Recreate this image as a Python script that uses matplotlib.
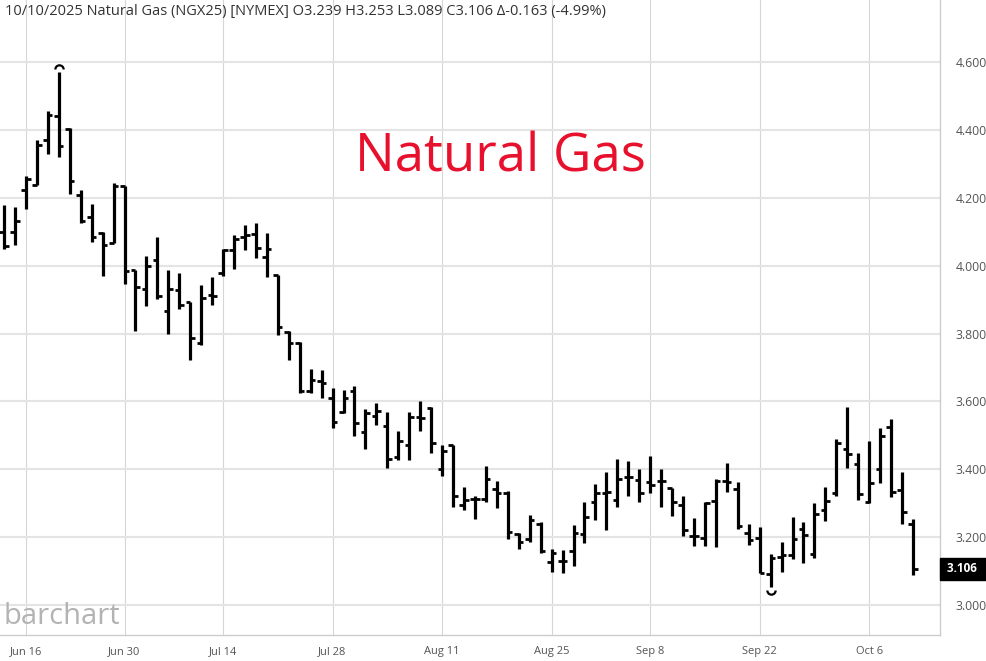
import numpy as np
import pandas as pd
import matplotlib.pyplot as plt
from matplotlib.path import Path

plt.rcParams['font.family'] = ['Open Sans', 'DejaVu Sans']

# Sesiones de negociación (NYMEX cerrado el 19-jun, 4-jul y 1-sep)
dias = pd.bdate_range('2025-06-12', '2025-10-10', freq='C',
                      holidays=['2025-06-19', '2025-07-04', '2025-09-01'])

apertura = [4.100, 4.100, 4.223, 4.238, 4.371, 4.443, 4.403, 4.209, 4.145, 4.096,
            4.066, 4.236, 3.989, 3.932, 4.018, 3.868, 3.930, 3.892, 3.772, 3.915,
            3.979, 4.047, 4.086, 4.095, 4.027, 3.972, 3.805, 3.771, 3.630, 3.660,
            3.609, 3.569, 3.632, 3.511, 3.558, 3.528, 3.436, 3.472, 3.554, 3.580,
            3.400, 3.472, 3.295, 3.313, 3.313, 3.343, 3.331, 3.208, 3.194, 3.238,
            3.125, 3.130, 3.159, 3.210, 3.302, 3.331, 3.310, 3.378, 3.367, 3.362,
            3.364, 3.346, 3.295, 3.202, 3.198, 3.306, 3.366, 3.341, 3.211, 3.198,
            3.090, 3.142, 3.147, 3.223, 3.150, 3.279, 3.331, 3.459, 3.415, 3.302,
            3.400, 3.525, 3.338, 3.239]
maximo = [4.179, 4.174, 4.266, 4.371, 4.456, 4.572, 4.407, 4.223, 4.181, 4.100,
          4.243, 4.236, 3.989, 4.028, 4.084, 3.989, 3.979, 3.892, 3.944, 3.967,
          4.051, 4.090, 4.120, 4.125, 4.098, 3.972, 3.807, 3.776, 3.697, 3.692,
          3.640, 3.633, 3.646, 3.577, 3.595, 3.568, 3.512, 3.568, 3.600, 3.583,
          3.472, 3.472, 3.347, 3.321, 3.410, 3.366, 3.336, 3.213, 3.264, 3.245,
          3.166, 3.162, 3.235, 3.302, 3.356, 3.393, 3.429, 3.425, 3.400, 3.440,
          3.400, 3.346, 3.322, 3.255, 3.303, 3.372, 3.418, 3.363, 3.237, 3.231,
          3.149, 3.185, 3.259, 3.244, 3.299, 3.348, 3.490, 3.583, 3.449, 3.483,
          3.523, 3.549, 3.392, 3.253]
minimo = [4.051, 4.061, 4.169, 4.238, 4.330, 4.320, 4.211, 4.125, 4.071, 3.971,
          4.066, 3.946, 3.807, 3.880, 3.903, 3.799, 3.873, 3.721, 3.765, 3.885,
          3.971, 3.990, 4.046, 4.022, 3.968, 3.795, 3.722, 3.626, 3.626, 3.611,
          3.522, 3.567, 3.499, 3.459, 3.531, 3.403, 3.428, 3.428, 3.512, 3.448,
          3.379, 3.288, 3.281, 3.254, 3.302, 3.287, 3.194, 3.166, 3.184, 3.154,
          3.097, 3.095, 3.115, 3.182, 3.249, 3.222, 3.290, 3.320, 3.302, 3.329,
          3.290, 3.263, 3.202, 3.174, 3.173, 3.171, 3.333, 3.225, 3.175, 3.093,
          3.053, 3.097, 3.134, 3.122, 3.137, 3.248, 3.322, 3.405, 3.309, 3.299,
          3.358, 3.319, 3.238, 3.089]
cierre = [4.059, 4.133, 4.255, 4.356, 4.445, 4.354, 4.250, 4.132, 4.086, 4.061,
          4.235, 3.984, 3.937, 4.000, 3.910, 3.932, 3.885, 3.787, 3.905, 3.910,
          4.046, 4.079, 4.092, 4.053, 4.051, 3.820, 3.771, 3.630, 3.663, 3.653,
          3.540, 3.609, 3.536, 3.566, 3.573, 3.430, 3.482, 3.553, 3.551, 3.477,
          3.453, 3.322, 3.310, 3.313, 3.370, 3.331, 3.215, 3.186, 3.251, 3.159,
          3.154, 3.130, 3.213, 3.259, 3.331, 3.334, 3.371, 3.376, 3.329, 3.354,
          3.364, 3.302, 3.222, 3.202, 3.301, 3.366, 3.363, 3.233, 3.191, 3.095,
          3.139, 3.146, 3.195, 3.205, 3.268, 3.305, 3.478, 3.444, 3.326, 3.358,
          3.498, 3.334, 3.273, 3.106]

fechas_ticks = ['2025-06-16', '2025-06-30', '2025-07-14', '2025-07-28', '2025-08-11',
                '2025-08-25', '2025-09-08', '2025-09-22', '2025-10-06']
etiquetas_x = ['Jun 16', 'Jun 30', 'Jul 14', 'Jul 28', 'Aug 11',
               'Aug 25', 'Sep 8', 'Sep 22', 'Oct 6']
niveles_y = [3.0, 3.2, 3.4, 3.6, 3.8, 4.0, 4.2, 4.4, 4.6]

titulo = ('10/10/2025 Natural Gas (NGX25) [NYMEX] O3.239 H3.253 L3.089 '
          'C3.106 \u0394-0.163 (-4.99%)')

x = np.arange(len(dias))
pos_ticks = dias.get_indexer(pd.to_datetime(fechas_ticks))

fig = plt.figure(figsize=(9.87, 6.61), dpi=100)
ax = fig.add_axes([0, 26 / 661, 940 / 987, 635 / 661])

# Barras OHLC
ax.vlines(x, minimo, maximo, color='black', lw=2.3, zorder=3)
ax.hlines(apertura, x - 0.42, x, color='black', lw=2.0, zorder=3)
ax.hlines(cierre, x, x + 0.42, color='black', lw=2.0, zorder=3)

# Marcas de máximo y mínimo del periodo
i_max = int(np.argmax(maximo))
i_min = int(np.argmin(minimo))
arco_arriba = Path.arc(0, 180)
arco_abajo = Path.arc(180, 360)
ax.plot(x[i_max], maximo[i_max] + 0.009, marker=arco_arriba, ms=6,
        mfc='none', mec='black', mew=1.6, zorder=4)
ax.plot(x[i_min], minimo[i_min] - 0.009, marker=arco_abajo, ms=6,
        mfc='none', mec='black', mew=1.6, zorder=4)

ax.set_xlim(-0.374, 85.47)
ax.set_ylim(2.911, 4.784)

ax.set_xticks(pos_ticks)
ax.set_xticklabels(etiquetas_x)
ax.set_yticks(niveles_y)
ax.set_yticklabels(['%.3f' % v for v in niveles_y])
ax.yaxis.tick_right()
ax.tick_params(axis='y', length=0, pad=11, labelsize=8.8, labelcolor='#555555')
ax.tick_params(axis='x', length=0, pad=8, labelsize=8, labelcolor='#555555')

ax.grid(axis='y', color='#e4e4e4', lw=1.5)
ax.grid(axis='x', color='#d6d6d6', lw=0.8)
ax.set_axisbelow(True)

for lado in ['left', 'top']:
    ax.spines[lado].set_visible(False)
for lado in ['right', 'bottom']:
    ax.spines[lado].set_color('#cccccc')
    ax.spines[lado].set_linewidth(1)

# Etiqueta del último precio
ax.text(1.0 + 4 / 940, cierre[-1], ' %.3f  ' % cierre[-1],
        transform=ax.get_yaxis_transform(),
        ha='left', va='center', fontsize=8.5, fontweight='bold', color='white',
        bbox=dict(facecolor='black', edgecolor='black', boxstyle='square,pad=0.35'))

fig.text(5 / 987, 1 - 11 / 661, titulo, ha='left', va='center', fontsize=10.5, color='#333333')
fig.text(500 / 987, 1 - 158 / 661, 'Natural Gas', ha='center', va='center',
         fontsize=38, color='#e8112d')
fig.text(4 / 987, 1 - 617 / 661, 'barchart', ha='left', va='center',
         fontsize=21, color='#b3b3b3')

fig.savefig('out.png', dpi=100)
